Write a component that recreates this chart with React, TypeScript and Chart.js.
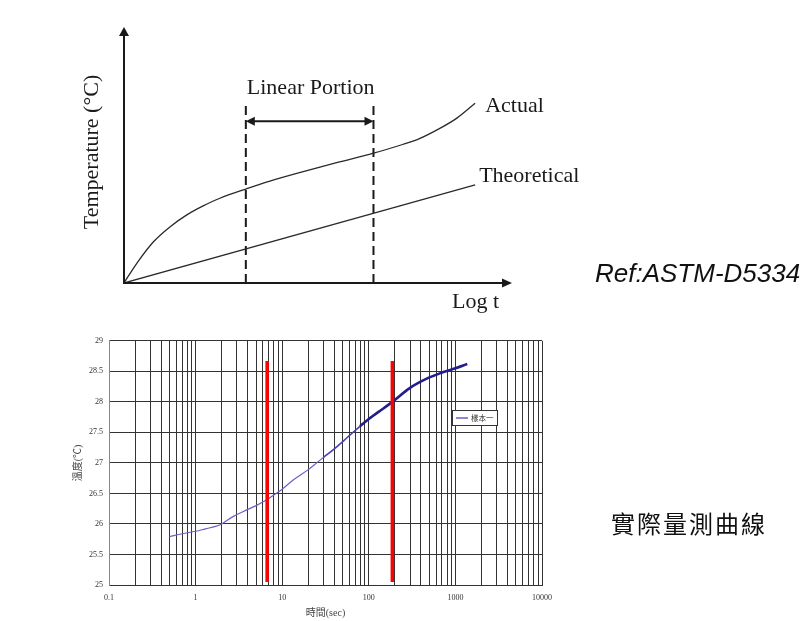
import React, { useEffect, useRef } from "react";
import { Chart, registerables } from "chart.js";
Chart.register(...registerables);

// ---------- Top schematic (arbitrary units: x = log t, y = temperature) ----------
const actualX = [0, 0.33, 0.76, 1.19, 1.62, 2.04, 2.47, 3.14, 3.76, 4.62, 5.48, 6.43, 7.2, 7.63, 8.14, 8.57, 9.05];
const actualY = [0, 0.77, 1.61, 2.2, 2.66, 3.01, 3.31, 3.67, 3.98, 4.35, 4.7, 5.07, 5.42, 5.65, 6.04, 6.43, 7.02];
const theoreticalX = [0, 9.05];
const theoreticalY = [0, 3.83];
const linearBounds = [3.14, 6.43];
const linearTop = 7.02;
const linearArrowY = 6.32;
const schemeAxisMax = 10;
const schemeTexts = ["Linear Portion", "Actual", "Theoretical", "Log t", "Temperature (°C)"];

// ---------- Bottom measured curve ----------
const timeSec = [0.5, 0.7, 1, 1.3, 1.7, 2, 2.7, 3.9, 5, 6.7, 7.9, 10, 13.4, 20, 25, 30, 40, 50, 60, 79, 100, 150, 187, 300, 466, 700, 1000, 1371];
const tempC = [25.79, 25.84, 25.88, 25.92, 25.96, 26.0, 26.12, 26.23, 26.3, 26.4, 26.47, 26.57, 26.72, 26.89, 27.0, 27.09, 27.23, 27.35, 27.45, 27.6, 27.72, 27.9, 28.0, 28.23, 28.38, 28.48, 28.55, 28.62];
const seriesName = "樣本一";
const redLineX = [6.7, 187];
const redLineY = [25.05, 28.67];
const decades = [0.1, 1, 10, 100, 1000];
const multipliers = [1, 2, 3, 4, 5, 6, 7, 8, 9];
const xLabelValues = [0.1, 1, 10, 100, 1000, 10000];
const xLabels = ["0.1", "1", "10", "100", "1000", "10000"];
const xTitle = "時間(sec)";
const yTitle = "溫度(℃)";
const sideTexts = ["Ref:ASTM-D5334", "實際量測曲線"];

const INK = "#1a1a1a";

function head(ctx: CanvasRenderingContext2D, x: number, y: number, dir: string, len: number, half: number) {
  ctx.beginPath();
  if (dir === "up") { ctx.moveTo(x, y); ctx.lineTo(x - half, y + len); ctx.lineTo(x + half, y + len); }
  if (dir === "right") { ctx.moveTo(x, y); ctx.lineTo(x - len, y - half); ctx.lineTo(x - len, y + half); }
  if (dir === "left") { ctx.moveTo(x, y); ctx.lineTo(x + len, y - half); ctx.lineTo(x + len, y + half); }
  ctx.closePath();
  ctx.fill();
}

const schemePlugin = {
  id: "scheme",
  afterDatasetsDraw(chart: any) {
    const { ctx, scales } = chart;
    const x = scales.x, y = scales.y;
    const ox = x.getPixelForValue(0), oy = y.getPixelForValue(0);
    const xe = x.getPixelForValue(schemeAxisMax), ye = y.getPixelForValue(schemeAxisMax);
    ctx.save();
    ctx.strokeStyle = INK;
    ctx.fillStyle = INK;
    ctx.lineWidth = 2;
    ctx.beginPath();
    ctx.moveTo(ox, oy); ctx.lineTo(ox, ye + 6);
    ctx.moveTo(ox - 1, oy); ctx.lineTo(xe - 6, oy);
    ctx.stroke();
    head(ctx, ox, ye, "up", 9, 5);
    head(ctx, xe, oy, "right", 10, 4.5);
    // linear portion double arrow
    const a1 = x.getPixelForValue(linearBounds[0]), a2 = x.getPixelForValue(linearBounds[1]);
    const ay = y.getPixelForValue(linearArrowY);
    ctx.beginPath(); ctx.moveTo(a1 + 6, ay); ctx.lineTo(a2 - 6, ay); ctx.stroke();
    head(ctx, a1, ay, "left", 9, 4.5);
    head(ctx, a2, ay, "right", 9, 4.5);
    // texts
    ctx.font = '22px "Liberation Serif"';
    ctx.textBaseline = "middle";
    ctx.textAlign = "center";
    ctx.fillText(schemeTexts[0], (a1 + a2) / 2 + 1, ay - 33);
    ctx.textAlign = "left";
    const n = actualX.length - 1;
    ctx.fillText(schemeTexts[1], x.getPixelForValue(actualX[n]) + 10, y.getPixelForValue(actualY[n]) + 3);
    ctx.fillText(schemeTexts[2], x.getPixelForValue(theoreticalX[1]) + 4, y.getPixelForValue(theoreticalY[1]) - 9);
    ctx.fillText(schemeTexts[3], xe - 60, oy + 19);
    ctx.save();
    ctx.translate(ox - 32, (oy + ye) / 2 - 3);
    ctx.rotate(-Math.PI / 2);
    ctx.textAlign = "center";
    ctx.fillText(schemeTexts[4], 0, 0);
    ctx.restore();
    ctx.restore();
  },
};

const legendPlugin = {
  id: "boxLegend",
  afterDraw(chart: any) {
    const { ctx, chartArea } = chart;
    const left = Math.round(chartArea.right - 90), top = Math.round(chartArea.top + 69);
    const w = 45, h = 15;
    ctx.save();
    ctx.fillStyle = "#fff";
    ctx.fillRect(left, top, w, h);
    ctx.strokeStyle = "#333";
    ctx.lineWidth = 1;
    ctx.strokeRect(left + 0.5, top + 0.5, w, h);
    ctx.strokeStyle = "#6a60c4";
    ctx.lineWidth = 1.5;
    ctx.beginPath();
    ctx.moveTo(left + 4, top + h / 2 + 0.5);
    ctx.lineTo(left + 16, top + h / 2 + 0.5);
    ctx.stroke();
    ctx.fillStyle = "#333";
    ctx.font = '7.5px "Noto Sans CJK TC"';
    ctx.textBaseline = "middle";
    ctx.fillText(seriesName, left + 19, top + h / 2 + 1);
    ctx.restore();
  },
};

export default function App() {
  const topRef = useRef<HTMLCanvasElement>(null);
  const botRef = useRef<HTMLCanvasElement>(null);

  useEffect(() => {
    const c1 = new Chart(topRef.current as HTMLCanvasElement, {
      type: "line",
      data: {
        datasets: [
          {
            data: actualX.map((v, i) => ({ x: v, y: actualY[i] })),
            borderColor: "#2a2a2a",
            borderWidth: 1.3,
            pointRadius: 0,
            tension: 0.35,
          },
          {
            data: theoreticalX.map((v, i) => ({ x: v, y: theoreticalY[i] })),
            borderColor: "#2a2a2a",
            borderWidth: 1.3,
            pointRadius: 0,
          },
          ...linearBounds.map((b) => ({
            data: [{ x: b, y: 0 }, { x: b, y: linearTop }],
            borderColor: INK,
            borderWidth: 2,
            borderDash: [9, 5],
            pointRadius: 0,
          })),
        ],
      } as any,
      options: {
        animation: false,
        responsive: false,
        maintainAspectRatio: false,
        layout: { padding: { left: 124, right: 294, top: 27, bottom: 47 } },
        plugins: { legend: { display: false }, tooltip: { enabled: false } },
        scales: {
          x: { type: "linear", min: 0, max: schemeAxisMax, display: false },
          y: { type: "linear", min: 0, max: schemeAxisMax, display: false },
        },
      } as any,
      plugins: [schemePlugin],
    });

    const gridX: number[] = [];
    decades.forEach((d) => multipliers.forEach((m) => gridX.push(m * d)));
    gridX.push(10000);
    const serif = '"Liberation Serif", "Noto Sans CJK TC", serif';

    const c2 = new Chart(botRef.current as HTMLCanvasElement, {
      type: "line",
      data: {
        datasets: [
          ...redLineX.map((v) => ({
            data: redLineY.map((yv) => ({ x: v, y: yv })),
            borderColor: "#ff0000",
            borderWidth: 3.5,
            pointRadius: 0,
          })),
          {
            label: seriesName,
            data: timeSec.map((t, i) => ({ x: t, y: tempC[i] })),
            borderColor: "#6a60c4",
            borderWidth: 1.2,
            pointRadius: 0,
            tension: 0.35,
            segment: {
              borderWidth: (c: any) => (c.p0.parsed.x >= 79 ? 2.6 : c.p0.parsed.x >= 30 ? 1.6 : 1.2),
              borderColor: (c: any) => (c.p0.parsed.x >= 79 ? "#221c8c" : c.p0.parsed.x >= 30 ? "#4a40b0" : "#6a60c4"),
            },
          },
        ],
      } as any,
      options: {
        animation: false,
        responsive: false,
        maintainAspectRatio: false,
        layout: { padding: { left: 66, right: 264, top: 6, bottom: 0 } },
        plugins: { legend: { display: false }, tooltip: { enabled: false } },
        scales: {
          x: {
            type: "logarithmic",
            min: 0.1,
            max: 10000,
            afterBuildTicks: (s: any) => {
              s.ticks = gridX.map((v) => ({ value: v }));
            },
            afterFit: (s: any) => {
              s.height = 36;
            },
            ticks: {
              autoSkip: false,
              maxRotation: 0,
              padding: 8,
              color: "#333",
              font: { family: serif, size: 8 },
              callback: (v: any) => {
                const i = xLabelValues.findIndex((lv) => Math.abs(lv - v) < lv * 1e-6);
                return i >= 0 ? xLabels[i] : "";
              },
            },
            grid: { color: "#333", lineWidth: 1, drawTicks: false },
            border: { color: "#333" },
            title: {
              display: true,
              text: xTitle,
              color: "#444",
              font: { family: serif, size: 10 },
              padding: { top: 0, bottom: 2 },
            },
          },
          y: {
            type: "linear",
            min: 25,
            max: 29,
            afterFit: (s: any) => {
              s.width = 43;
            },
            ticks: {
              stepSize: 0.5,
              padding: 6,
              color: "#333",
              font: { family: serif, size: 8 },
              callback: (v: any) => String(v),
            },
            grid: { color: "#333", lineWidth: 1, drawTicks: false },
            border: { color: "#888" },
            title: {
              display: true,
              text: yTitle,
              color: "#444",
              font: { family: serif, size: 10 },
              padding: { top: 6, bottom: 0 },
            },
          },
        },
      } as any,
      plugins: [legendPlugin],
    });

    return () => {
      c1.destroy();
      c2.destroy();
    };
  }, []);

  return (
    <div style={{ position: "absolute", left: 0, top: 0, width: 806, height: 621, background: "#fff", overflow: "hidden" }}>
      <canvas ref={topRef} width={806} height={330} style={{ position: "absolute", left: 0, top: 0, display: "block" }} />
      <canvas ref={botRef} width={806} height={291} style={{ position: "absolute", left: 0, top: 330, display: "block" }} />
      <div
        style={{
          position: "absolute",
          left: 595,
          top: 260,
          fontFamily: '"Liberation Sans", Arial, sans-serif',
          fontStyle: "italic",
          fontSize: 26,
          lineHeight: "26px",
          whiteSpace: "nowrap",
          color: "#111",
        }}
      >
        {sideTexts[0]}
      </div>
      <div
        style={{
          position: "absolute",
          left: 611,
          top: 511,
          fontFamily: '"Noto Sans CJK TC", sans-serif',
          fontSize: 24,
          lineHeight: "24px",
          letterSpacing: 2,
          whiteSpace: "nowrap",
          color: "#111",
        }}
      >
        {sideTexts[1]}
      </div>
    </div>
  );
}
